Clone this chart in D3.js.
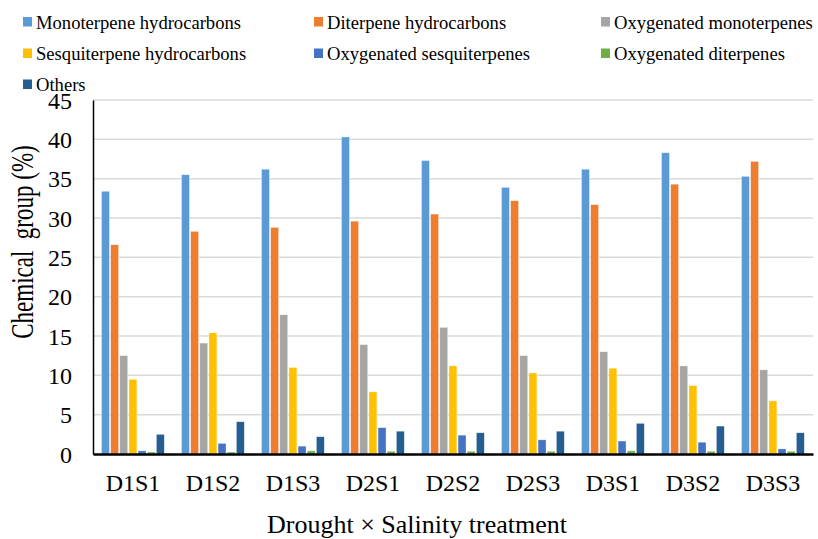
<!DOCTYPE html>
<html><head><meta charset="utf-8">
<script src="https://cdn.jsdelivr.net/npm/d3@7"></script>
<style>body{margin:0;background:#fff}svg{display:block}text{font-family:"Liberation Serif","Times New Roman",serif}</style>
</head><body><svg id="c" width="818" height="539"></svg>
<script>
const categories = ["D1S1","D1S2","D1S3","D2S1","D2S2","D2S3","D3S1","D3S2","D3S3"];
const seriesNames = ["Monoterpene hydrocarbons","Diterpene hydrocarbons","Oxygenated monoterpenes","Sesquiterpene hydrocarbons","Oxygenated sesquiterpenes","Oxygenated diterpenes","Others"];
const monoterpeneHC = [33.4,35.5,36.2,40.3,37.3,33.9,36.2,38.3,35.3];
const diterpeneHC   = [26.6,28.3,28.8,29.6,30.5,32.2,31.7,34.3,37.2];
const oxyMono       = [12.5,14.1,17.7,13.9,16.1,12.5,13.0,11.2,10.7];
const sesquiHC      = [9.5,15.4,11.0,7.9,11.2,10.3,10.9,8.7,6.75];
const oxySesqui     = [0.4,1.35,1.0,3.35,2.4,1.8,1.65,1.5,0.65];
const oxyDi         = [0.25,0.25,0.4,0.35,0.35,0.35,0.4,0.35,0.35];
const others        = [2.5,4.1,2.2,2.9,2.7,2.9,3.9,3.55,2.7];
const yTicks = [0,5,10,15,20,25,30,35,40,45];
const colors = ["#5B9BD5","#ED7D31","#A5A5A5","#FFC000","#4472C4","#70AD47","#255E91"];
const seriesValues = [monoterpeneHC,diterpeneHC,oxyMono,sesquiHC,oxySesqui,oxyDi,others];

const svg = d3.select("#c");
const m = {l:93, r:813, t:100, b:454};
const x0 = d3.scaleBand().domain(categories).range([m.l,m.r]).paddingInner(0.2).paddingOuter(0.1);
const x1 = d3.scaleBand().domain(d3.range(seriesNames.length)).range([0,x0.bandwidth()]).padding(0);
const y = d3.scaleLinear().domain([0,45]).range([m.b,m.t]);

// gridlines
svg.append("g").selectAll("line").data(yTicks.filter(d=>d>0)).join("line")
  .attr("x1",m.l).attr("x2",m.r).attr("y1",d=>y(d)).attr("y2",d=>y(d))
  .attr("stroke","#d9d9d9").attr("stroke-width",1.5);

// bars
const g = svg.append("g");
categories.forEach((c,ci)=>{
  seriesValues.forEach((vals,si)=>{
    g.append("rect")
      .attr("x", x0(c)+x1(si)+0.5)
      .attr("width", x1.bandwidth()-1.2)
      .attr("y", y(vals[ci]))
      .attr("height", y(0)-y(vals[ci]))
      .attr("fill", colors[si])
      .attr("stroke","#ffffff").attr("stroke-opacity",0.6).attr("stroke-width",0.6);
  });
});

// axes
const ya = svg.append("g").attr("transform",`translate(${m.l},0)`)
  .call(d3.axisLeft(y).tickValues(yTicks).tickSize(0).tickPadding(21));
ya.select(".domain").attr("stroke","#000").attr("stroke-width",1.5);
ya.selectAll("text").attr("font-size",24).attr("fill","#000").attr("dy","0.34em").style("font-family",'"Liberation Serif",serif');

const xa = svg.append("g").attr("transform",`translate(0,${m.b})`)
  .call(d3.axisBottom(x0).tickSize(0).tickPadding(14));
xa.select(".domain").attr("stroke","#000").attr("stroke-width",2.5);
xa.selectAll("text").attr("font-size",24).attr("fill","#000").attr("y",null).attr("dy",null)
  .attr("y",37).style("font-family",'"Liberation Serif",serif');

// titles
svg.append("text").attr("x",417).attr("y",533).attr("text-anchor","middle")
  .attr("font-size",26).text("Drought × Salinity treatment");
svg.append("text").attr("transform","translate(33,242) scale(1.38,1) rotate(-90)").attr("text-anchor","middle")
  .attr("font-size",23).attr("xml:space","preserve").style("white-space","pre").text("Chemical  group (%)");

// legend
const legX = [23,314,601], legY = [22,53.5,84.5];
seriesNames.forEach((n,i)=>{
  const lx = legX[i%3], ly = legY[Math.floor(i/3)];
  const lg = svg.append("g");
  lg.append("rect").attr("x",lx).attr("y",ly-5).attr("width",9).attr("height",9.5).attr("fill",colors[i]);
  lg.append("text").attr("x",lx+13).attr("y",ly+6.5).attr("font-size",18.6).text(n);
});
</script></body></html>
